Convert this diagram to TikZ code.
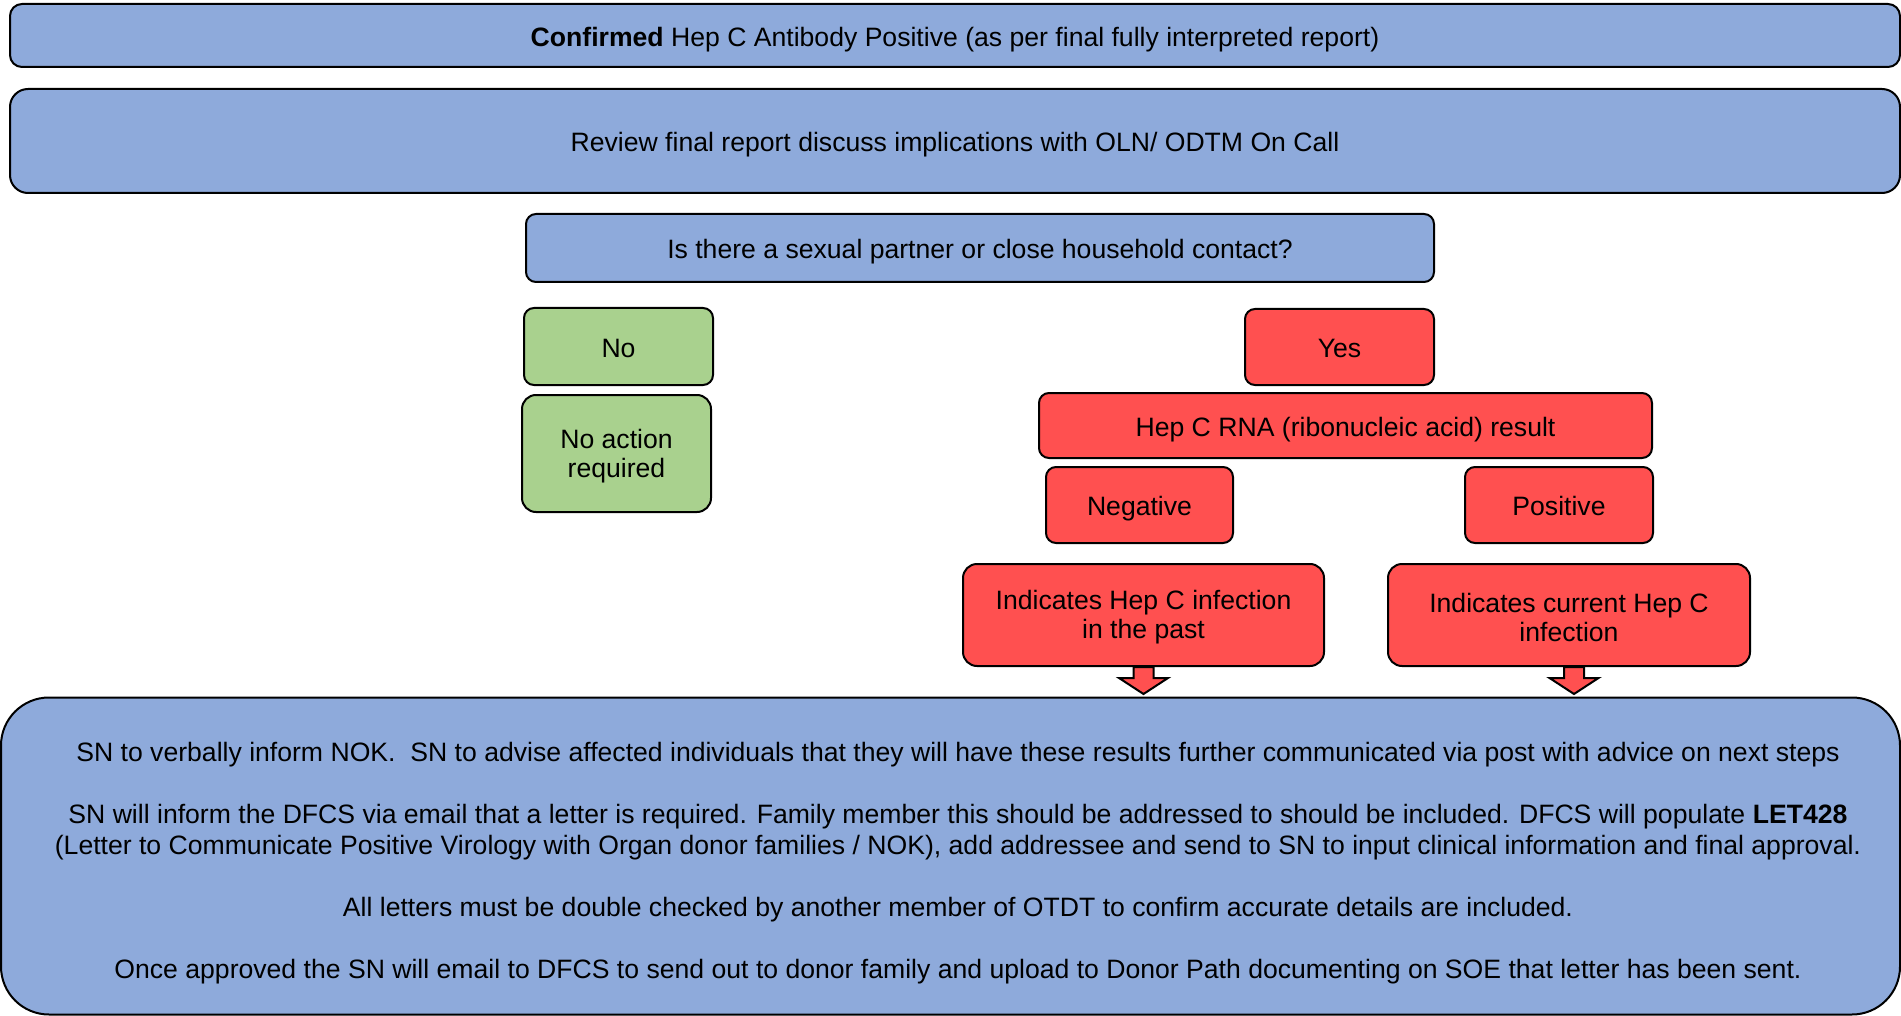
\documentclass[tikz,border=0pt]{standalone}
\usepackage{fontspec}
\setmainfont{Liberation Sans}
\usetikzlibrary{calc}
\definecolor{boxblue}{HTML}{8EAADB}
\definecolor{boxgreen}{HTML}{A9D18E}
\definecolor{boxred}{HTML}{FF5050}
\newcommand{\firstline}{\rule{0pt}{12pt}}
\begin{document}
\begin{tikzpicture}[x=0.5pt,y=-0.5pt,
  box/.style={draw=black, line width=1pt, rounded corners=5pt, inner sep=2pt, align=center,
    font=\fontsize{13.3pt}{14.5pt}\selectfont},
  oneline/.style={text height=11.6pt, text depth=1pt},
  bluebox/.style={box, fill=boxblue},
  greenbox/.style={box, fill=boxgreen},
  redbox/.style={box, fill=boxred},
  bodytext/.style={inner sep=0pt, align=center, font=\fontsize{13.3pt}{15.5pt}\selectfont},
  barrow/.style={draw=black, line width=1pt, fill=boxred, line join=miter}]
\useasboundingbox (0,0) rectangle (1901,1016);

\node[bluebox, oneline, rounded corners=6pt, minimum width=945pt, minimum height=31.5pt] (top1) at (955,35.5)
  {\textbf{Confirmed} Hep C Antibody Positive (as per final fully interpreted report)};
\node[bluebox, oneline, rounded corners=9pt, minimum width=945pt, minimum height=52pt] (top2) at (955,141)
  {Review final report discuss implications with OLN/ ODTM On Call};
\node[bluebox, oneline, minimum width=454pt, minimum height=34pt] (q) at (980,248)
  {Is there a sexual partner or close household contact?};

\node[greenbox, oneline, minimum width=94.5pt, minimum height=38.5pt] (no) at (618.5,346.5) {No};
\node[greenbox, rounded corners=7pt, minimum width=94.5pt, minimum height=58.5pt] (noact) at (616.5,453.5)
  {\firstline No action\\required};

\node[redbox, oneline, minimum width=94.5pt, minimum height=38pt] (yes) at (1339.5,347) {Yes};
\node[redbox, oneline, minimum width=306.5pt, minimum height=32.5pt] (rna) at (1345.5,425.5)
  {Hep C RNA (ribonucleic acid) result};
\node[redbox, oneline, minimum width=93.5pt, minimum height=38pt] (neg) at (1139.5,505) {Negative};
\node[redbox, oneline, minimum width=94pt, minimum height=38pt] (pos) at (1559,505) {Positive};
\node[redbox, rounded corners=7pt, minimum width=180.5pt, minimum height=51pt] (past) at (1143.5,615)
  {\firstline Indicates Hep C infection\\in the past};
\node[redbox, rounded corners=7pt, minimum width=181pt, minimum height=51pt] (curr) at (1569,615)
  {\firstline Indicates current Hep C\\infection};

\node[bluebox, rounded corners=24pt, minimum width=949.5pt, minimum height=158.5pt] (bottom) at (950.5,856) {};
\node[bodytext] (bottomtext) at (958,863)
  {SN to verbally inform NOK.\ \ SN to advise affected individuals that they will have these results further communicated via post with advice on next steps\\[15.5pt]
   SN will inform the DFCS via email that a letter is required. Family member this should be addressed to should be included. DFCS will populate \textbf{LET428}\\
   (Letter to Communicate Positive Virology with Organ donor families / NOK), add addressee and send to SN to input clinical information and final approval.\\[15.5pt]
   All letters must be double checked by another member of OTDT to confirm accurate details are included.\\[15.5pt]
   Once approved the SN will email to DFCS to send out to donor family and upload to Donor Path documenting on SOE that letter has been sent.};

\draw[barrow] ($(past.south)+(-5pt,0)$) -- ++(0,-5.5pt) -- ++(-7.25pt,0) -- ++(12.25pt,-8pt)
  -- ++(12.25pt,8pt) -- ++(-7.25pt,0) -- ++(0,5.5pt) -- cycle;
\draw[barrow] ($(curr.south)+(-2.5pt,0)$) -- ++(0,-5.5pt) -- ++(-7.25pt,0) -- ++(12.25pt,-8pt)
  -- ++(12.25pt,8pt) -- ++(-7.25pt,0) -- ++(0,5.5pt) -- cycle;
\end{tikzpicture}
\end{document}
